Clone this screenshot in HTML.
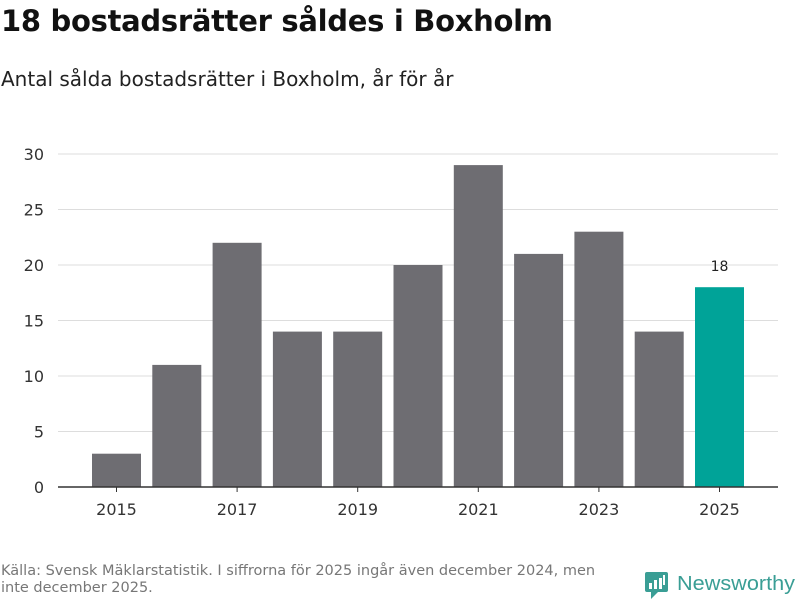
<!DOCTYPE html>
<html><head><meta charset="utf-8"><style>
body{margin:0;width:800px;height:600px;background:#fff;font-family:"DejaVu Sans","Liberation Sans",sans-serif;overflow:hidden;position:relative}
#title{position:absolute;left:1px;top:4px;font-size:29px;font-weight:bold;color:#111;margin:0;letter-spacing:-0.3px}
#sub{position:absolute;left:1px;top:67px;font-size:20px;color:#222}
#src{position:absolute;left:1px;top:563px;font-size:14.5px;color:#777;line-height:17px;width:615px}
#logo{position:absolute;left:645px;top:570px}
</style></head><body>
<h1 id="title">18 bostadsrätter såldes i Boxholm</h1>
<div id="sub">Antal sålda bostadsrätter i Boxholm, år för år</div>
<svg id="chart" width="800" height="600" style="position:absolute;left:0;top:0"></svg>
<div id="src">Källa: Svensk Mäklarstatistik. I siffrorna för 2025 ingår även december 2024, men inte december 2025.</div>
<div id="logo">
<svg width="155" height="30"><rect x="0" y="2" width="23" height="20" rx="2" fill="#3a9e95"/><path d="M6 22 L6 29 L13 22Z" fill="#3a9e95"/>
<rect x="4" y="13" width="3" height="6" fill="#fff"/><rect x="9" y="10" width="3" height="9" fill="#fff"/><rect x="14" y="8" width="3" height="11" fill="#fff"/><rect x="18" y="5" width="2" height="10" fill="#fff"/>
<text x="32" y="20" font-size="20" fill="#3a9e95" font-family="Liberation Sans, sans-serif" textLength="118" lengthAdjust="spacingAndGlyphs">Newsworthy</text></svg></div>
<script>
const categories=["2015","2016","2017","2018","2019","2020","2021","2022","2023","2024","2025"];
const values=[3,11,22,14,14,20,29,21,23,14,18];
const yTicks=[0,5,10,15,20,25,30];
const xLabels=["2015","2017","2019","2021","2023","2025"];
const NS="http://www.w3.org/2000/svg";
const svg=document.getElementById('chart');
const y=v=>487-v*(333/30);
const x=i=>116.5+i*60.3;
function mk(t,a){const e=document.createElementNS(NS,t);for(const k in a)e.setAttribute(k,a[k]);svg.appendChild(e);return e;}
yTicks.forEach(t=>{
 if(t>0){const g=mk('line',{x1:58,x2:778,y1:y(t),y2:y(t),stroke:'#ddd','stroke-width':1});
 
 }
 const l=mk('text',{x:44,y:y(t)+6,'text-anchor':'end','font-size':16,fill:'#333'});l.textContent=t;
 
 
});
values.forEach((v,i)=>{
 const last=i===values.length-1;
 const b=mk('rect',{x:x(i)-24.5,y:y(v),width:49,height:487-y(v),fill:last?'#00a398':'#6e6d72'});
 
 
 if(last){const t=mk('text',{x:x(i),y:y(v)-16,'text-anchor':'middle','font-size':14,fill:'#222'});t.textContent=v;
 
 }
});
const ax=mk('line',{x1:58,x2:778,y1:487,y2:487,stroke:'#333','stroke-width':1.5});


xLabels.forEach(l=>{const i=categories.indexOf(l);
 const tk=mk('line',{x1:x(i),x2:x(i),y1:487,y2:492,stroke:'#333'});
 
 
 const t=mk('text',{x:x(i),y:515,'text-anchor':'middle','font-size':16,fill:'#333'});t.textContent=l;
 
 });
</script>
</body></html>
